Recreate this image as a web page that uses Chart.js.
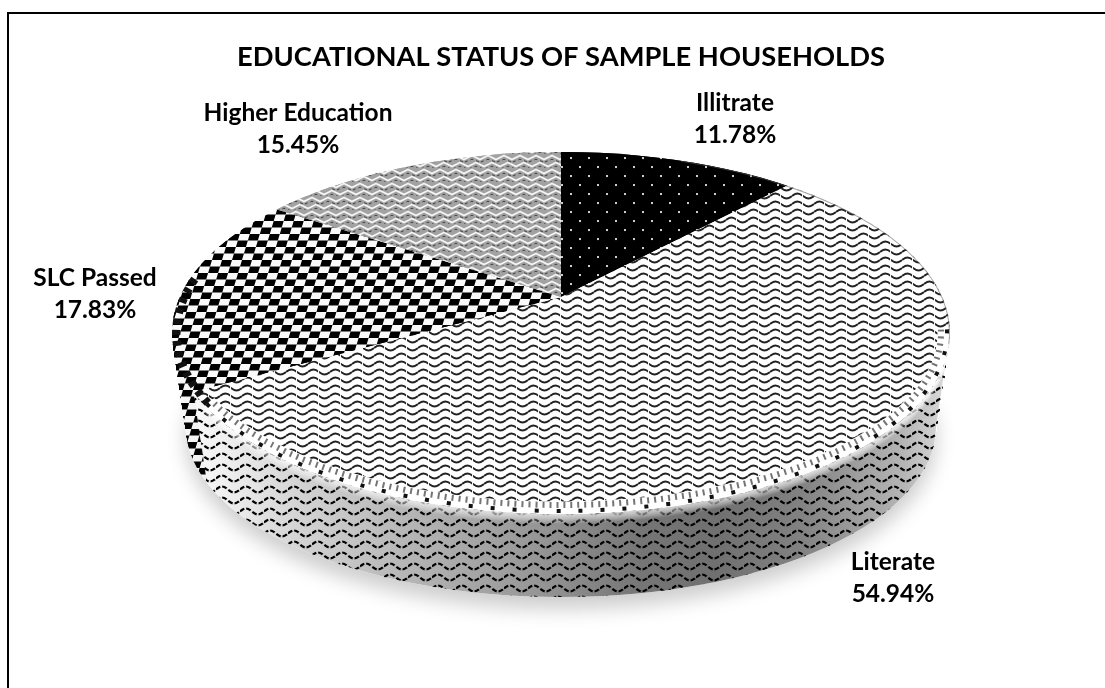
<!DOCTYPE html>
<html>
<head>
<meta charset="utf-8">
<title>Educational status of sample households</title>
<script src="https://cdn.jsdelivr.net/npm/chart.js@4"></script>
<style>
  html, body { margin: 0; padding: 0; background: #fff; }
  #wrap { position: absolute; left: 0; top: 0; width: 1105px; height: 688px; }
</style>
</head>
<body>
<div id="wrap"><canvas id="grafico" width="1105" height="688"></canvas></div>
<script>
const chartTitle = "EDUCATIONAL STATUS OF SAMPLE HOUSEHOLDS";
const categories = ["Illitrate", "Literate", "SLC Passed", "Higher Education"];
const shares = [11.78, 54.94, 17.83, 15.45];

// where each label sits, same order as categories
const labelSpots = [[735, 103], [893, 562], [95, 278], [298, 113]];

// the tilted disc
const apex = { x: 561, y: 297 };
const topRim = { x: 561, y: 333, rx: 389, ry: 181 };
const bottomRim = { x: 561, y: 427, rx: 375, ry: 170 };
const depth = 94;
const tilt = 0.45;

function tile(w, h, paint) {
  const c = document.createElement("canvas");
  c.width = w;
  c.height = h;
  paint(c.getContext("2d"));
  return c;
}

function wave(g, y, w, amp) {
  g.beginPath();
  g.moveTo(0, y);
  g.bezierCurveTo(w * 0.2, y - amp, w * 0.3, y - amp, w * 0.5, y);
  g.bezierCurveTo(w * 0.7, y + amp, w * 0.8, y + amp, w, y);
  g.stroke();
}

const dotsTile = tile(18, 18, (g) => {
  g.fillStyle = "#000";
  g.fillRect(0, 0, 18, 18);
  g.fillStyle = "#ccc";
  g.fillRect(3, 4, 2, 2);
  g.fillRect(12, 13, 2, 2);
});

const wavesTile = tile(22, 16, (g) => {
  g.fillStyle = "#fff";
  g.fillRect(0, 0, 22, 16);
  g.strokeStyle = "#222";
  g.lineWidth = 1.9;
  wave(g, 4, 22, 3.4);
  wave(g, 12, 22, 3.4);
  g.fillStyle = "#fff";
  g.fillRect(10, 0, 1, 16);
});

const wallTile = tile(24, 11, (g) => {
  g.fillStyle = "#fff";
  g.fillRect(0, 0, 24, 11);
  g.strokeStyle = "#000";
  g.lineWidth = 2.2;
  g.setLineDash([5, 2]);
  wave(g, 5.5, 24, 4);
});

const checkerTile = tile(20, 13, (g) => {
  g.fillStyle = "#fafafa";
  g.fillRect(0, 0, 20, 13);
  g.fillStyle = "#000";
  g.fillRect(0, 0, 10, 6.5);
  g.fillRect(10, 6.5, 10, 6.5);
});

const weaveTile = tile(16, 14, (g) => {
  g.fillStyle = "#a2a2a2";
  g.fillRect(0, 0, 16, 14);
  g.lineWidth = 1.8;
  g.strokeStyle = "#f6f6f6";
  for (const [y, x0] of [[3.5, 0], [10.5, 4]]) {
    g.beginPath();
    for (let i = -2; i < 6; i++) {
      g.lineTo(x0 + i * 8, y + (i % 2 === 0 ? 2 : -2));
    }
    g.stroke();
  }
  g.lineWidth = 0.9;
  g.strokeStyle = "#333";
  g.setLineDash([3, 3]);
  for (const [y, x0] of [[6.7, 0], [13.7, 4]]) {
    g.beginPath();
    for (let i = -2; i < 6; i++) {
      g.lineTo(x0 + i * 8, y + (i % 2 === 0 ? 1.5 : -1.5));
    }
    g.stroke();
  }
});

const ctx = document.getElementById("grafico");
const c2d = ctx.getContext("2d");

const topPatterns = [dotsTile, wavesTile, checkerTile, weaveTile].map((t) => c2d.createPattern(t, "repeat"));
const sidePatterns = [dotsTile, wallTile, checkerTile, weaveTile].map((t) => c2d.createPattern(t, "repeat"));

// pattern offset so tiles stay put on the page whatever the arc transform is
function patternBase(i) {
  return i === 2 ? new DOMMatrix([1, 0, -0.3, 1, 0, 0]) : new DOMMatrix();
}

function ellipsePath(g, e) {
  g.beginPath();
  g.ellipse(e.x, e.y, e.rx, e.ry, 0, 0, Math.PI * 2);
}

function paintArcs(chart, g, patterns, cx, cy) {
  const arcs = chart.getDatasetMeta(0).data;
  arcs.forEach((arc, i) => {
    const k = 1000 / arc.outerRadius;
    const m = new DOMMatrix().translate(cx, cy).scale(k, k * tilt).translate(-arc.x, -arc.y);
    const pattern = patterns[i];
    pattern.setTransform(m.inverse().multiply(patternBase(i)));
    const saved = arc.options;
    arc.options = Object.assign({}, saved, { backgroundColor: pattern, borderColor: "rgba(0,0,0,0)", borderWidth: 0 });
    g.save();
    g.setTransform(m);
    arc.draw(g);
    g.restore();
    arc.options = saved;
  });
}

function wallPath(g) {
  g.beginPath();
  g.ellipse(bottomRim.x, bottomRim.y, bottomRim.rx, bottomRim.ry, 0, 0, Math.PI);
  g.lineTo(topRim.x - topRim.rx, topRim.y);
  g.ellipse(topRim.x, topRim.y, topRim.rx, topRim.ry, 0, Math.PI, 0, true);
  g.closePath();
}

function rimStroke(g, inset, from, to) {
  g.beginPath();
  g.ellipse(topRim.x, topRim.y, topRim.rx - inset, topRim.ry - inset, 0, from, to);
  g.stroke();
}

const tiltedDisc = {
  id: "tiltedDisc",
  beforeDatasetsDraw(chart) {
    const g = chart.ctx;

    // soft shadow on the page
    g.save();
    g.shadowColor = "rgba(0,0,0,0.2)";
    g.shadowBlur = 20;
    g.shadowOffsetY = 12;
    g.fillStyle = "#fff";
    ellipsePath(g, bottomRim);
    g.fill();
    g.restore();

    // side wall: the same slices pushed down, one pixel at a time
    for (let d = depth; d >= 0; d--) {
      const t = d / depth;
      g.save();
      ellipsePath(g, {
        x: topRim.x,
        y: topRim.y + (bottomRim.y - topRim.y) * t,
        rx: topRim.rx + (bottomRim.rx - topRim.rx) * t,
        ry: topRim.ry + (bottomRim.ry - topRim.ry) * t,
      });
      g.clip();
      paintArcs(chart, g, sidePatterns, apex.x, apex.y + d);
      g.restore();
    }

    // wall shading
    g.save();
    wallPath(g);
    g.clip();
    const shade = g.createLinearGradient(172, 0, 950, 0);
    shade.addColorStop(0, "#ffffff");
    shade.addColorStop(0.06, "#f2f2f2");
    shade.addColorStop(0.16, "#d4d4d4");
    shade.addColorStop(0.29, "#b8b8b8");
    shade.addColorStop(0.47, "#969696");
    shade.addColorStop(0.6, "#767676");
    shade.addColorStop(0.7, "#707070");
    shade.addColorStop(0.81, "#828282");
    shade.addColorStop(0.94, "#b5b5b5");
    shade.addColorStop(1, "#dddddd");
    g.globalCompositeOperation = "multiply";
    g.fillStyle = shade;
    g.fillRect(150, 300, 820, 320);
    g.globalCompositeOperation = "source-over";
    // bright band under the rim, fading out downward
    for (let i = 0; i < 10; i++) {
      g.strokeStyle = "rgba(255,255,255," + (0.45 * (1 - i / 10)).toFixed(3) + ")";
      g.lineWidth = 2;
      g.beginPath();
      g.ellipse(topRim.x, topRim.y + i, topRim.rx - i * 0.1, topRim.ry, 0, 0, Math.PI * 0.87);
      g.stroke();
    }
    g.restore();

    // top face
    g.save();
    ellipsePath(g, topRim);
    g.clip();
    paintArcs(chart, g, topPatterns, apex.x, apex.y);
    // bevel along the front edge
    g.lineWidth = 13;
    g.strokeStyle = "#fff";
    rimStroke(g, 6, -0.02, Math.PI * 0.87);
    g.lineWidth = 6;
    g.strokeStyle = "rgba(70,70,70,0.75)";
    g.setLineDash([2, 5]);
    rimStroke(g, 9, -0.02, Math.PI * 0.87);
    g.lineWidth = 4;
    g.strokeStyle = "#111";
    g.setLineDash([4, 18]);
    rimStroke(g, 3, -0.02, Math.PI * 0.87);
    g.setLineDash([]);
    // rim of the checker slice
    g.lineWidth = 9;
    g.strokeStyle = "#111";
    g.setLineDash([5, 6]);
    rimStroke(g, 4, Math.PI * 0.87, Math.PI * 1.1);
    g.setLineDash([]);
    // thin grey edge round the back
    g.lineWidth = 2;
    g.strokeStyle = "rgba(90,90,90,0.55)";
    rimStroke(g, 0, Math.PI * 1.6, Math.PI * 2.02);
    g.restore();

    return false;
  },
  afterDraw(chart) {
    const g = chart.ctx;
    g.save();
    // frame only shows on the left and top
    g.fillStyle = "#000";
    g.fillRect(7, 12, 2, 676);
    g.fillRect(7, 12, 1098, 2);

    g.font = "bold 24.5px Lato";
    g.fillStyle = "#000";
    g.textAlign = "center";
    g.textBaseline = "middle";
    categories.forEach((name, i) => {
      const [x, y] = labelSpots[i];
      g.fillText(name, x, y);
      g.fillText(shares[i].toFixed(2) + "%", x, y + 32);
    });
    g.restore();
  },
};

new Chart(ctx, {
  type: "pie",
  data: {
    labels: categories,
    datasets: [
      {
        data: shares,
        backgroundColor: topPatterns,
        borderWidth: 0,
      },
    ],
  },
  options: {
    responsive: false,
    animation: false,
    devicePixelRatio: 1,
    layout: { padding: { top: 14, left: 17 } },
    plugins: {
      legend: { display: false },
      tooltip: { enabled: false },
      title: {
        display: true,
        text: chartTitle,
        color: "#000",
        font: { family: "Lato", size: 27.3, weight: "bold" },
        padding: { top: 27, bottom: 10 },
      },
    },
  },
  plugins: [tiltedDisc],
});
</script>
</body>
</html>
